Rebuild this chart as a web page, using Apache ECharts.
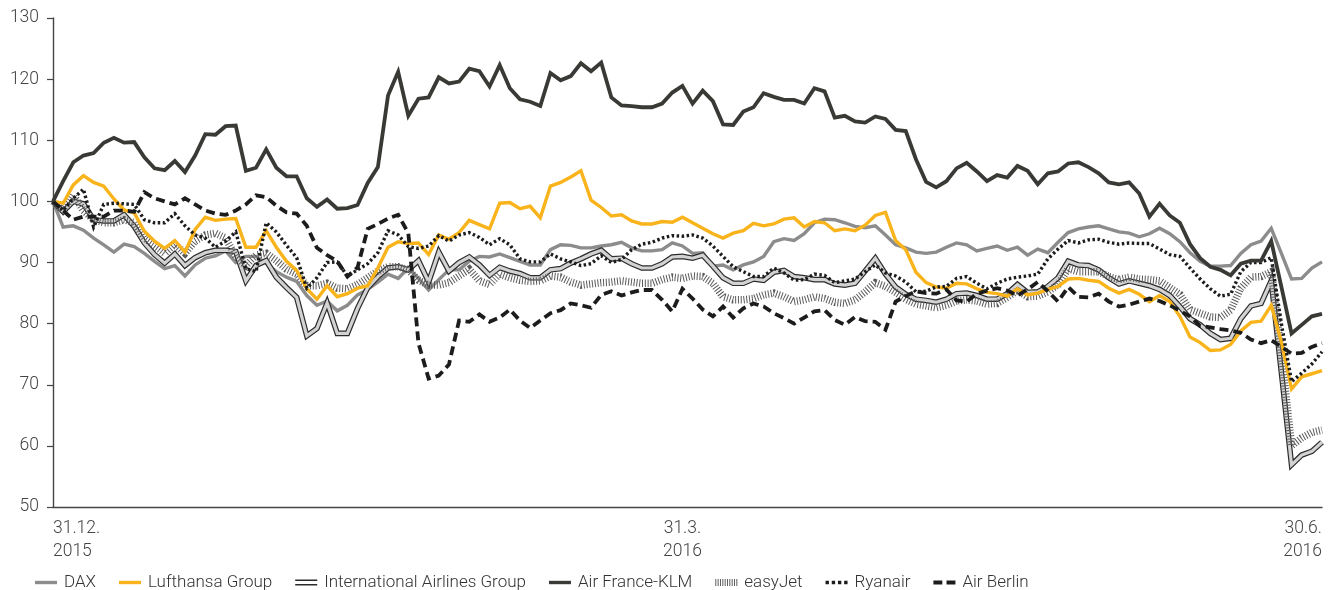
<!DOCTYPE html>
<html><head><meta charset="utf-8">
<script src="https://cdn.jsdelivr.net/npm/echarts@6/dist/echarts.min.js"></script>
<style>html,body{margin:0;padding:0;background:#fff}#c{width:1330px;height:590px}</style>
</head><body><div id="c"></div>
<script>
// UK trading days 31.12.2015 - 30.6.2016
const holidays = ['2016-01-01','2016-03-25','2016-03-28','2016-05-02','2016-05-30'];
function buildDays(){
  const out=[]; let t=Date.UTC(2015,11,31); const end=Date.UTC(2016,5,30);
  while(t<=end){const d=new Date(t);const wd=d.getUTCDay();
    const iso=d.toISOString().slice(0,10);
    if(wd!==0&&wd!==6&&holidays.indexOf(iso)<0){out.push(d.getUTCDate()+'.'+(d.getUTCMonth()+1)+'.'+d.getUTCFullYear());}
    t+=86400000;}
  return out;
}
const categories = buildDays();
const tickDates = ['31.12.2015','31.3.2016','30.6.2016'];
const tickLabels = ['31.12.\n2015','31.3.\n2016','30.6.\n2016'];
const seriesNames = ['DAX','Lufthansa Group','International Airlines Group','Air France-KLM','easyJet','Ryanair','Air Berlin'];

const dax = [100,95.8,96,95.3,94,92.9,91.7,93,92.6,91.5,
90.2,89,89.5,87.8,89.6,90.7,91.1,91.9,90,91,
91,89.9,88.5,87.6,86.9,84.6,83,83.7,82.1,83,
84.7,85.6,86.8,88.1,87.4,89.1,87.4,85.5,87.2,88.8,
88.8,90.2,91,90.9,91.4,90.8,90.2,89.6,89.6,92.1,
92.9,92.8,92.4,92.4,92.7,92.9,93.3,92.4,91.9,91.9,
92.1,93.2,92.7,91.5,91.6,89.4,89.6,88.8,89.6,90.1,
91,93.4,93.9,93.6,94.7,96.5,97.1,97,96.5,95.9,
95.7,96,94.5,92.9,92.4,91.7,91.5,91.7,92.5,93.2,
92.9,91.9,92.3,92.7,92,92.5,91.2,92.2,91.6,93.3,
94.9,95.5,95.8,96,95.5,95,94.8,94.2,94.7,95.6,
94.7,93.4,91.6,90.2,89.4,89.4,89.5,91.5,92.9,93.5,
95.6,91.5,87.3,87.4,89.1,90.1];
const lufthansa = [100,99.7,102.7,104.2,103.1,102.5,100.4,98.6,98.1,95.1,
93.5,92.3,93.6,91.7,95.4,97.4,96.9,97.1,97.2,92.5,
92.5,95.2,92.5,90.2,88.7,85.7,84,86.2,84.4,84.9,
85.8,86.2,89.1,92.5,93.4,93.1,93.2,91.3,94.5,93.8,
94.9,96.9,96.2,95.5,99.7,99.8,98.8,99.2,97.3,102.5,
103.1,104,105,100.2,99,97.6,97.8,96.8,96.3,96.3,
96.7,96.6,97.4,96.5,95.6,94.7,94,94.8,95.2,96.4,
96,96.3,97.1,97.3,95.8,96.7,96.5,95.2,95.5,95.2,
96.1,97.7,98.2,93.6,92.1,88.4,86.7,86,85.8,86.6,
86.5,85.7,85.1,84.9,84.5,85.7,84.7,85,85.6,86.1,
87.3,87.4,87.1,86.9,85.8,85,85.6,84.8,83.6,84.6,
83.6,81.2,77.8,76.9,75.6,75.7,76.6,78.8,80.2,80.4,
83,77,69.3,71.3,71.8,72.3];
const iag = [100,98.3,100,99.6,97,96.8,96.8,97.8,95.9,93.2,
91.3,89.9,91.4,89.5,90.8,91.6,92,92,91.8,87,
89.5,90.3,87.6,85.9,84.3,78,79.2,83.4,78.4,78.4,
82.5,85.9,87.7,89.1,89.3,88.8,90.3,86.8,91.7,88.6,
90,90.9,89.6,87.9,89.2,88.6,88.2,87.5,87.5,88.8,
89,89.9,90.6,91.4,92,90.6,90.7,89.8,89.1,89.1,
89.8,90.9,91,90.7,91.2,89.4,87.5,86.6,86.6,87.3,
87.1,88.4,88.7,87.7,87.5,87.2,87.2,86.5,86.3,86.6,
88.6,90.7,88.1,86,84.8,84,83.8,83.5,84,84.9,
85,84.6,84,84,84.9,86.4,85.1,85.2,86.1,87.5,
90.2,89.6,89.5,88.8,87.5,86.5,87,86.6,86.2,85.6,
84.6,82.8,80.8,79.8,78.4,77.4,77.6,80.8,82.9,83.3,
87,72,56.9,58.5,59.1,60.6];
const airFrance = [100,103.3,106.4,107.5,107.9,109.6,110.4,109.6,109.7,107.2,
105.4,105.1,106.6,104.8,107.5,111,110.9,112.3,112.4,105,
105.5,108.5,105.5,104.1,104.1,100.5,99.1,100.3,98.8,98.9,
99.4,103,105.6,117.3,121.2,114,116.8,117,120.3,119.3,
119.6,121.7,121.3,118.8,122.3,118.5,116.7,116.3,115.6,121,
119.8,120.5,122.6,121.3,122.7,117,115.7,115.6,115.4,115.4,
116,117.8,118.9,116,118.1,116.4,112.6,112.5,114.7,115.4,
117.7,117.1,116.6,116.6,116,118.5,118,113.7,114,113.1,
112.9,113.9,113.5,111.7,111.5,106.9,103.2,102.3,103.3,105.4,
106.3,104.9,103.3,104.3,103.9,105.8,105,102.8,104.6,104.9,
106.2,106.4,105.6,104.6,103.1,102.8,103.1,101.3,97.5,99.6,
97.7,96.5,93,90.7,89.3,88.8,87.9,89.8,90.3,90.3,
93.5,86,78.4,79.8,81.2,81.6];
const easyJet = [100,98.5,101,98.5,97,96.5,96.5,97,96.5,94,
92.8,91.5,93,91.5,93.5,94.5,94.8,94,91,89.5,
91.2,91.5,90.3,88.9,88.1,86.2,86.2,86.6,85.8,85.7,
86.4,87.5,88.6,89.3,89.3,88.8,87.1,86.3,86.3,86.7,
87.8,88.9,87,86.4,88.1,87.5,87.1,86.9,87,87.8,
87.6,86.8,86.3,86.5,86.7,86.8,87,86.8,86.6,86.6,
87.2,87.6,87.4,87.8,87.7,86.6,84.4,83.9,83.9,84.1,
84.7,85,84.4,83.6,83.9,84.4,84.1,83.5,83.3,83.9,
85.2,86.7,86.1,85.1,84,83.2,82.9,82.6,83,83.7,
83.9,83.7,83.2,83.3,84.3,85.4,84.4,84.5,85.2,86.4,
89,88.5,88.5,88.5,87.7,87.2,87.6,87.3,87.2,87,
85.9,84.8,82.3,81.7,81.1,81,82.2,85.8,87.6,87.7,
88.5,75,60,61.3,62.2,62.6];
const ryanair = [100,98.5,100.5,102,95.8,99.5,99.7,99.6,99.5,97,
96.5,96.5,98,96,94.5,94,92.5,93.5,95,89,
88.5,96.5,95,92.8,90.8,85.8,87.5,90,90.1,87.8,
88.8,89.8,91.6,95.2,94.5,92.6,92.3,92.7,94.4,93.5,
94.5,94.9,94.1,92.9,93.9,92.9,90.6,90.1,90.1,91.4,
90.6,90.1,89.5,89.8,91.1,90,90.5,92.1,93,93.3,
94,94.4,94.3,94.5,94,92.7,91,89.3,88.5,87.7,
87.7,89.1,88.3,87.1,87.2,88.1,87.9,86.7,87,87.3,
88.5,89.6,88.3,87.8,86.8,85.2,85.3,86,86.1,87.4,
87.7,86.6,85.7,86.6,87.3,87.6,87.8,88.1,90.6,92.2,
93.6,93.2,93.7,93.8,93.3,93,93.2,93.1,93.1,92.2,
91.3,91,89.1,87.3,85.7,84.5,84.8,88.5,90,90,
90.8,80,70.5,71.9,73.4,75.4];
const airBerlin = [100,98.5,97,97.5,97.5,97.5,98.5,98.5,98.3,101.5,
100.5,100,99.5,100.5,99.5,98.5,98,97.8,98.5,99.5,
101,100.7,99.3,98.2,98,96,92.4,91.2,90.2,87.7,
89.2,95.5,96.3,97.2,97.8,94.8,76.8,71,71.5,73.3,
80.5,80.3,81.5,80.3,81,82.3,80.5,79.3,80.5,81.7,
82.2,83.3,83,82.6,84.7,85.3,84.6,85.1,85.5,85.5,
83.9,82,85.7,84.1,82.3,81.2,82.8,81,82.5,83.3,
82.8,81.7,80.9,80,81,82,82.2,80.6,79.8,81.1,
80.4,80.3,79,83.6,84.5,85.3,85,84.9,85.6,83.8,
83.6,84.9,85.4,85.8,85.4,84.6,85.6,86.8,85.3,83.6,
86,84.4,84.3,84.9,83.6,82.8,83.1,83.6,84.1,83.7,
83,82.1,81.2,79.6,79.4,79.1,78.9,78.5,77.4,76.8,
77.3,76.2,75.1,75.2,76.2,76.8];

const yTicks = {min:50, max:130, interval:10};
const FONT = 'Roboto, "Liberation Sans", sans-serif';

// legend glyphs (style only)
function hatchPath(){let p='path://';for(let k=0;k<10;k++){const x=(k*2.4).toFixed(1);p+='M'+x+',0h1v7h-1z ';}return p;}
const ICON_SOLID = 'path://M0,0H22V3.4H0Z';
const ICON_DOUBLE = 'path://M0,0H22V1.5H0Z M0,4.5H22V6H0Z';
const ICON_DOTS = 'path://M0,0h3v3h-3z M5.5,0h3v3h-3z M11,0h3v3h-3z M16.5,0h3v3h-3z';
const ICON_DASH = 'path://M0,0h8.5v3.6h-8.5z M12.5,0h8.5v3.6h-8.5z';

const chart = echarts.init(document.getElementById('c'), null, {renderer:'canvas'});
function line(name, data, color, width, type, z){
  return {name:name, type:'line', data:data, symbol:'none', showSymbol:false, smooth:false,
    animation:false, z:z, lineStyle:{color:color, width:width, type:type||'solid', cap:'butt', join:'miter'},
    itemStyle:{color:color}, emphasis:{disabled:true}};
}
const series = [
  line(seriesNames[0], dax, '#8c8c8c', 3.4, 'solid', 2),
  line(seriesNames[2], iag, '#2b2b2b', 5.6, 'solid', 3),
  line('IAG inner', iag, '#d2d2d2', 3.2, 'solid', 4),
  line(seriesNames[4], easyJet, '#5a5a5a', 7.5, [1,1.8], 5),
  line(seriesNames[1], lufthansa, '#f9b31b', 3.4, 'solid', 6),
  line(seriesNames[5], ryanair, '#1c1c1c', 3.4, [2.5,2.5], 7),
  line(seriesNames[6], airBerlin, '#1c1c1c', 3.8, [9,5], 8),
  line(seriesNames[3], airFrance, '#393a35', 3.8, 'solid', 9)
];
chart.setOption({
  backgroundColor:'#ffffff',
  animation:false,
  grid:{left:53, right:8, top:18, bottom:83, containLabel:false, outerBoundsMode:'none'},
  legend:{
    left:30, top:569, itemGap:23, itemWidth:22, itemHeight:12,
    textStyle:{color:'#333', fontSize:17, fontFamily:FONT, fontWeight:300, padding:[0,0,0,2]},
    selectedMode:false,
    data:[
      {name:seriesNames[0], icon:ICON_SOLID},
      {name:seriesNames[1], icon:ICON_SOLID},
      {name:seriesNames[2], icon:ICON_DOUBLE},
      {name:seriesNames[3], icon:ICON_SOLID},
      {name:seriesNames[4], icon:hatchPath()},
      {name:seriesNames[5], icon:ICON_DOTS},
      {name:seriesNames[6], icon:ICON_DASH}
    ]
  },
  xAxis:{
    type:'category', data:categories, boundaryGap:false,
    axisLine:{show:true, lineStyle:{color:'#444', width:1.4}},
    axisTick:{show:false},
    splitLine:{show:false},
    axisLabel:{
      interval:function(idx, val){return tickDates.indexOf(val)>=0;},
      formatter:function(val){const k=tickDates.indexOf(val);return k>=0?tickLabels[k]:'';},
      alignMinLabel:'left', alignMaxLabel:'right',
      color:'#444', fontSize:17.5, lineHeight:23, margin:10, fontFamily:FONT, fontWeight:300
    }
  },
  yAxis:{
    type:'value', min:yTicks.min, max:yTicks.max, interval:yTicks.interval,
    axisLine:{show:true, lineStyle:{color:'#444', width:1.4}},
    axisTick:{show:true, length:6, lineStyle:{color:'#444', width:1.2}},
    splitLine:{show:false},
    axisLabel:{color:'#444', fontSize:17.5, margin:14, fontFamily:FONT, fontWeight:300}
  },
  tooltip:{show:false},
  series:series
});
</script></body></html>
